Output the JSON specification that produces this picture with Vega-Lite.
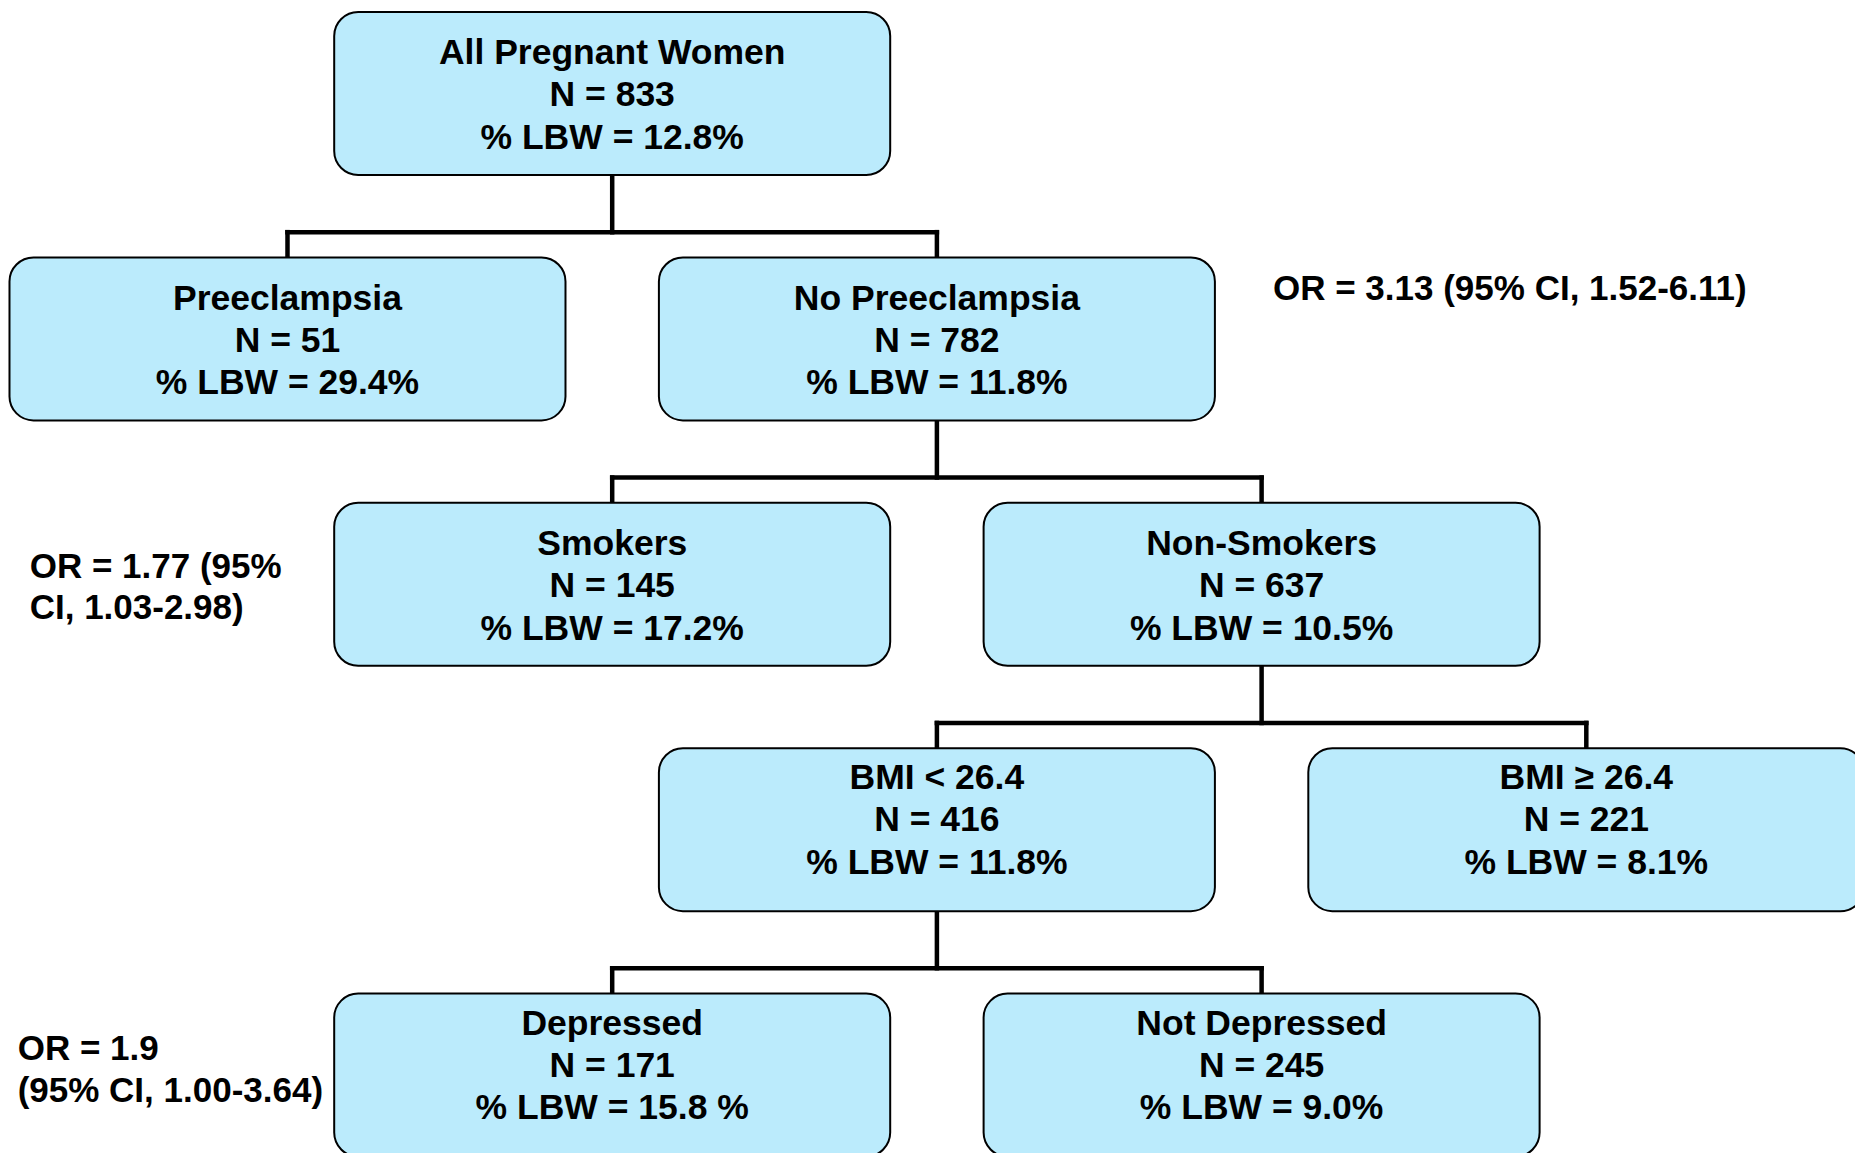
{
  "$schema": "https://vega.github.io/schema/vega-lite/v6.json",
  "width": 1855,
  "height": 1153,
  "autosize": {"type": "fit", "contains": "padding"},
  "padding": 0,
  "background": "white",
  "config": {"view": {"stroke": null}},
  "datasets": {
    "nodes": [
      {"id": "root", "col": 1, "level": 0, "title": "All Pregnant Women", "n": "N = 833", "lbw": "% LBW = 12.8%"},
      {"id": "pre", "col": 0, "level": 1, "title": "Preeclampsia", "n": "N = 51", "lbw": "% LBW = 29.4%"},
      {"id": "nopre", "col": 2, "level": 1, "title": "No Preeclampsia", "n": "N = 782", "lbw": "% LBW = 11.8%"},
      {"id": "smk", "col": 1, "level": 2, "title": "Smokers", "n": "N = 145", "lbw": "% LBW = 17.2%"},
      {"id": "nonsmk", "col": 3, "level": 2, "title": "Non-Smokers", "n": "N = 637", "lbw": "% LBW = 10.5%"},
      {"id": "bmilo", "col": 2, "level": 3, "title": "BMI < 26.4", "n": "N = 416", "lbw": "% LBW = 11.8%"},
      {"id": "bmihi", "col": 4, "level": 3, "title": "BMI ≥ 26.4", "n": "N = 221", "lbw": "% LBW = 8.1%"},
      {"id": "dep", "col": 1, "level": 4, "title": "Depressed", "n": "N = 171", "lbw": "% LBW = 15.8 %"},
      {"id": "notdep", "col": 3, "level": 4, "title": "Not Depressed", "n": "N = 245", "lbw": "% LBW = 9.0%"}
    ],
    "links": [
      {"x": 1, "y": 0, "x2": 1, "y2": 0.565},
      {"x": 0, "y": 0.565, "x2": 2, "y2": 0.565},
      {"x": 0, "y": 0.565, "x2": 0, "y2": 1},
      {"x": 2, "y": 0.565, "x2": 2, "y2": 1},
      {"x": 2, "y": 1, "x2": 2, "y2": 1.565},
      {"x": 1, "y": 1.565, "x2": 3, "y2": 1.565},
      {"x": 1, "y": 1.565, "x2": 1, "y2": 2},
      {"x": 3, "y": 1.565, "x2": 3, "y2": 2},
      {"x": 3, "y": 2, "x2": 3, "y2": 2.565},
      {"x": 2, "y": 2.565, "x2": 4, "y2": 2.565},
      {"x": 2, "y": 2.565, "x2": 2, "y2": 3},
      {"x": 4, "y": 2.565, "x2": 4, "y2": 3},
      {"x": 2, "y": 3, "x2": 2, "y2": 3.565},
      {"x": 1, "y": 3.565, "x2": 3, "y2": 3.565},
      {"x": 1, "y": 3.565, "x2": 1, "y2": 4},
      {"x": 3, "y": 3.565, "x2": 3, "y2": 4}
    ],
    "notes": [
      {"text": "OR = 3.13 (95% CI, 1.52-6.11)", "col": 3.035, "level": 0.795},
      {"text": "OR = 1.77 (95%", "col": -0.794, "level": 1.928},
      {"text": "CI, 1.03-2.98)", "col": -0.794, "level": 2.098},
      {"text": "OR = 1.9", "col": -0.831, "level": 3.895},
      {"text": "(95% CI, 1.00-3.64)", "col": -0.831, "level": 4.064}
    ]
  },
  "layer": [
    {
      "data": {"name": "links"},
      "mark": {"type": "rule", "strokeWidth": 4.5, "color": "black", "strokeCap": "square"},
      "encoding": {
        "x": {"field": "x", "type": "quantitative", "scale": {"domain": [-0.8854, 4.8275], "nice": false, "zero": false}, "axis": null},
        "x2": {"field": "x2"},
        "y": {"field": "y", "type": "quantitative", "scale": {"domain": [-0.381, 4.3175], "nice": false, "zero": false, "reverse": true}, "axis": null},
        "y2": {"field": "y2"}
      }
    },
    {
      "data": {"name": "nodes"},
      "mark": {"type": "rect", "fill": "#BBEBFC", "stroke": "black", "strokeWidth": 2, "cornerRadius": 24, "xOffset": -278, "x2Offset": 278, "yOffset": -81.5, "y2Offset": 81.5, "clip": true},
      "encoding": {
        "x": {"field": "col", "type": "quantitative", "scale": {"domain": [-0.8854, 4.8275], "nice": false, "zero": false}, "axis": null},
        "x2": {"field": "col"},
        "y": {"field": "level", "type": "quantitative", "scale": {"domain": [-0.381, 4.3175], "nice": false, "zero": false, "reverse": true}, "axis": null},
        "y2": {"field": "level"}
      }
    },
    {
      "data": {"name": "nodes"},
      "transform": [{"filter": "datum.level < 3"}],
      "mark": {"type": "text", "font": "Liberation Sans", "fontWeight": "bold", "fontSize": 35.5, "align": "center", "baseline": "middle", "dy": -40, "color": "black", "clip": true},
      "encoding": {
        "x": {"field": "col", "type": "quantitative", "scale": {"domain": [-0.8854, 4.8275], "nice": false, "zero": false}, "axis": null},
        "y": {"field": "level", "type": "quantitative", "scale": {"domain": [-0.381, 4.3175], "nice": false, "zero": false, "reverse": true}, "axis": null},
        "text": {"field": "title"}
      }
    },
    {
      "data": {"name": "nodes"},
      "transform": [{"filter": "datum.level < 3"}],
      "mark": {"type": "text", "font": "Liberation Sans", "fontWeight": "bold", "fontSize": 35.5, "align": "center", "baseline": "middle", "dy": 2, "color": "black", "clip": true},
      "encoding": {
        "x": {"field": "col", "type": "quantitative", "scale": {"domain": [-0.8854, 4.8275], "nice": false, "zero": false}, "axis": null},
        "y": {"field": "level", "type": "quantitative", "scale": {"domain": [-0.381, 4.3175], "nice": false, "zero": false, "reverse": true}, "axis": null},
        "text": {"field": "n"}
      }
    },
    {
      "data": {"name": "nodes"},
      "transform": [{"filter": "datum.level < 3"}],
      "mark": {"type": "text", "font": "Liberation Sans", "fontWeight": "bold", "fontSize": 35.5, "align": "center", "baseline": "middle", "dy": 44.5, "color": "black", "clip": true},
      "encoding": {
        "x": {"field": "col", "type": "quantitative", "scale": {"domain": [-0.8854, 4.8275], "nice": false, "zero": false}, "axis": null},
        "y": {"field": "level", "type": "quantitative", "scale": {"domain": [-0.381, 4.3175], "nice": false, "zero": false, "reverse": true}, "axis": null},
        "text": {"field": "lbw"}
      }
    },
    {
      "data": {"name": "nodes"},
      "transform": [{"filter": "datum.level >= 3"}],
      "mark": {"type": "text", "font": "Liberation Sans", "fontWeight": "bold", "fontSize": 35.5, "align": "center", "baseline": "middle", "dy": -51.5, "color": "black", "clip": true},
      "encoding": {
        "x": {"field": "col", "type": "quantitative", "scale": {"domain": [-0.8854, 4.8275], "nice": false, "zero": false}, "axis": null},
        "y": {"field": "level", "type": "quantitative", "scale": {"domain": [-0.381, 4.3175], "nice": false, "zero": false, "reverse": true}, "axis": null},
        "text": {"field": "title"}
      }
    },
    {
      "data": {"name": "nodes"},
      "transform": [{"filter": "datum.level >= 3"}],
      "mark": {"type": "text", "font": "Liberation Sans", "fontWeight": "bold", "fontSize": 35.5, "align": "center", "baseline": "middle", "dy": -9.5, "color": "black", "clip": true},
      "encoding": {
        "x": {"field": "col", "type": "quantitative", "scale": {"domain": [-0.8854, 4.8275], "nice": false, "zero": false}, "axis": null},
        "y": {"field": "level", "type": "quantitative", "scale": {"domain": [-0.381, 4.3175], "nice": false, "zero": false, "reverse": true}, "axis": null},
        "text": {"field": "n"}
      }
    },
    {
      "data": {"name": "nodes"},
      "transform": [{"filter": "datum.level >= 3"}],
      "mark": {"type": "text", "font": "Liberation Sans", "fontWeight": "bold", "fontSize": 35.5, "align": "center", "baseline": "middle", "dy": 33, "color": "black", "clip": true},
      "encoding": {
        "x": {"field": "col", "type": "quantitative", "scale": {"domain": [-0.8854, 4.8275], "nice": false, "zero": false}, "axis": null},
        "y": {"field": "level", "type": "quantitative", "scale": {"domain": [-0.381, 4.3175], "nice": false, "zero": false, "reverse": true}, "axis": null},
        "text": {"field": "lbw"}
      }
    },
    {
      "data": {"name": "notes"},
      "mark": {"type": "text", "font": "Liberation Sans", "fontWeight": "bold", "fontSize": 35, "align": "left", "baseline": "middle", "color": "black"},
      "encoding": {
        "x": {"field": "col", "type": "quantitative", "scale": {"domain": [-0.8854, 4.8275], "nice": false, "zero": false}, "axis": null},
        "y": {"field": "level", "type": "quantitative", "scale": {"domain": [-0.381, 4.3175], "nice": false, "zero": false, "reverse": true}, "axis": null},
        "text": {"field": "text"}
      }
    }
  ]
}
